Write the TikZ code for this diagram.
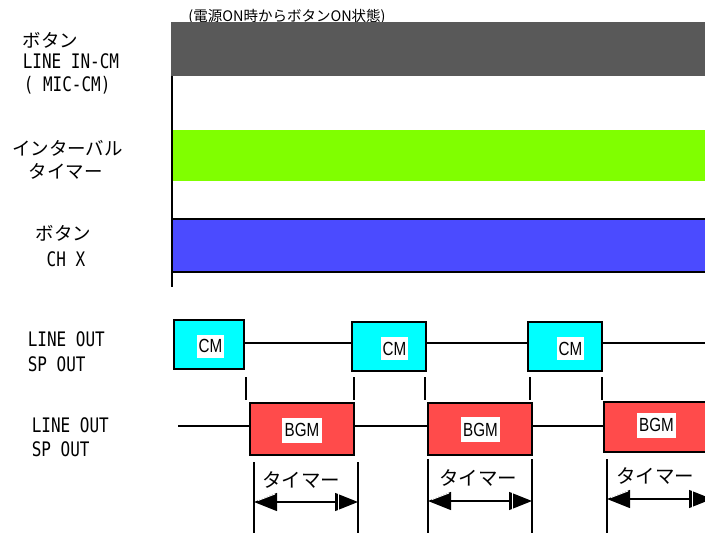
\documentclass[tikz,border=0pt]{standalone}
\usepackage{fontspec}
\setmainfont{Noto Sans CJK JP}
\newfontfamily\jpfont{Noto Sans CJK JP}
\newfontfamily\monofont[FakeStretch=0.8]{DejaVu Sans Mono}
\newfontfamily\narrowfont[FakeStretch=0.8]{Liberation Sans}
\usetikzlibrary{arrows.meta,calc}

\definecolor{bargray}{RGB}{89,89,89}
\definecolor{barlime}{RGB}{128,255,0}
\definecolor{barblue}{RGB}{75,75,255}
\definecolor{cmcyan}{RGB}{0,255,255}
\definecolor{bgmred}{RGB}{255,75,75}

\begin{document}
\begin{tikzpicture}[x=1pt,y=-1pt,line width=1.6pt,
  jp/.style={font=\jpfont\fontsize{18.5}{20}\selectfont,inner sep=0pt},
  mono/.style={font=\monofont\fontsize{20}{22}\selectfont,inner sep=0pt},
  cmbox/.style={draw=black,fill=cmcyan,minimum width=74pt,minimum height=49pt,inner sep=0pt},
  bgmbox/.style={draw=black,fill=bgmred,minimum width=104pt,minimum height=52pt,inner sep=0pt},
  tag/.style={fill=white,inner xsep=1.5pt,inner ysep=0pt,minimum height=23pt,
    font=\narrowfont\fontsize{19}{19}\selectfont},
  tick/.style={line width=1.4pt},
  timer/.style={line width=1.4pt,
    {Triangle[length=23pt,width=18pt]}-{Triangle[length=23pt,width=18pt]}},
  bevel/.style={white,line width=0.9pt},
  timerlabel/.style={font=\jpfont\fontsize{19.5}{20}\selectfont,inner sep=0pt}]
\useasboundingbox (0,0) rectangle (705,533);
\begin{scope}
\clip (0,0) rectangle (705,533);

% caption over the first bar
\node[font=\jpfont\fontsize{14.5}{16}\selectfont,inner sep=0pt] (caption) at (287,17)
  {(電源ON時からボタンON状態)};

% status bars
\fill[bargray] (171,22) rectangle (705,76);
\fill[barlime] (173,130) rectangle (705,181);
\fill[barblue] (172,219) rectangle (705,272);
\draw (172,219) -- (705,219);
\draw (172,272) -- (705,272);
\draw (172,76) -- (172,287);

% row labels
\node[jp,anchor=west] (lbA1) at (22,40) {ボタン};
\node[mono,anchor=west] (lbA2) at (22,61) {LINE IN-CM};
\node[mono,anchor=west] (lbA3) at (23,85) {( MIC-CM)};
\node[jp] (lbB1) at (67.5,148) {インターバル};
\node[jp] (lbB2) at (65.5,171) {タイマー};
\node[jp] (lbC1) at (63.5,233.5) {ボタン};
\node[mono] (lbC2) at (66,259.5) {CH X};
\node[mono,anchor=west] (lbD1) at (27,339.5) {LINE OUT};
\node[mono,anchor=west] (lbD2) at (27,364) {SP OUT};
\node[mono,anchor=west] (lbE1) at (31,425.5) {LINE OUT};
\node[mono,anchor=west] (lbE2) at (31,449.5) {SP OUT};

% CM track
\node[cmbox,minimum width=70pt] (cm1) at (209,344.5) {};
\node[cmbox] (cm2) at (389,346.5) {};
\node[cmbox] (cm3) at (565,346.5) {};
\node[tag] (cm1t) at (210.5,346) {CM};
\node[tag] (cm2t) at (394.5,348.5) {CM};
\node[tag] (cm3t) at (570.5,348.5) {CM};
\coordinate (cmend) at (705,343);
\draw (cm1.east |- 0,343) -- (cm2.west |- 0,343);
\draw (cm2.east |- 0,343) -- (cm3.west |- 0,343);
\draw (cm3.east |- 0,343) -- (cmend);

% BGM track
\node[bgmbox] (bgm1) at (302,429) {};
\node[bgmbox] (bgm2) at (480,429) {};
\node[bgmbox,minimum height=50pt] (bgm3) at (656,427) {};
\node[tag,minimum height=25pt,inner xsep=2.5pt] (bgm1t) at (302,430) {BGM};
\node[tag,minimum height=25pt,inner xsep=2.5pt] (bgm2t) at (480.5,429.5) {BGM};
\node[tag,minimum height=25pt,inner xsep=2.5pt] (bgm3t) at (656.5,425) {BGM};
\coordinate (bgmstart) at (178,426);
\draw (bgmstart) -- (bgm1.west |- 0,426);
\draw (bgm1.east |- 0,426) -- (bgm2.west |- 0,426);
\draw (bgm2.east |- 0,426) -- (bgm3.west |- 0,426);

% switch-over marks between the tracks
\foreach \x in {246,354,425,530,602}
  \draw[tick] (\x,377) -- (\x,400);

% timer spans
\foreach \x/\y in {254/462,358/462,428/459,532/459,607/459}
  \draw[tick] (\x,\y) -- (\x,533);

\coordinate (t1a) at (254,502); \coordinate (t1b) at (358,502);
\coordinate (t2a) at (428,501); \coordinate (t2b) at (532,501);
\coordinate (t3a) at (607,499); \coordinate (t3b) at (712,499);
\foreach \a/\b in {t1a/t1b,t2a/t2b,t3a/t3b}{
  \draw[timer] (\a) -- (\b);
  \draw[bevel] ($(\a)+(4,-1.5)$) -- ($(\a)+(21,-8)$);
  \draw[bevel] ($(\b)+(-20,-8)$) -- ($(\b)+(-20,8)$);
}
\node[timerlabel] (tm1) at (301,480) {タイマー};
\node[timerlabel] (tm2) at (478,478) {タイマー};
\node[timerlabel] (tm3) at (655,476) {タイマー};
\end{scope}
\end{tikzpicture}
\end{document}
